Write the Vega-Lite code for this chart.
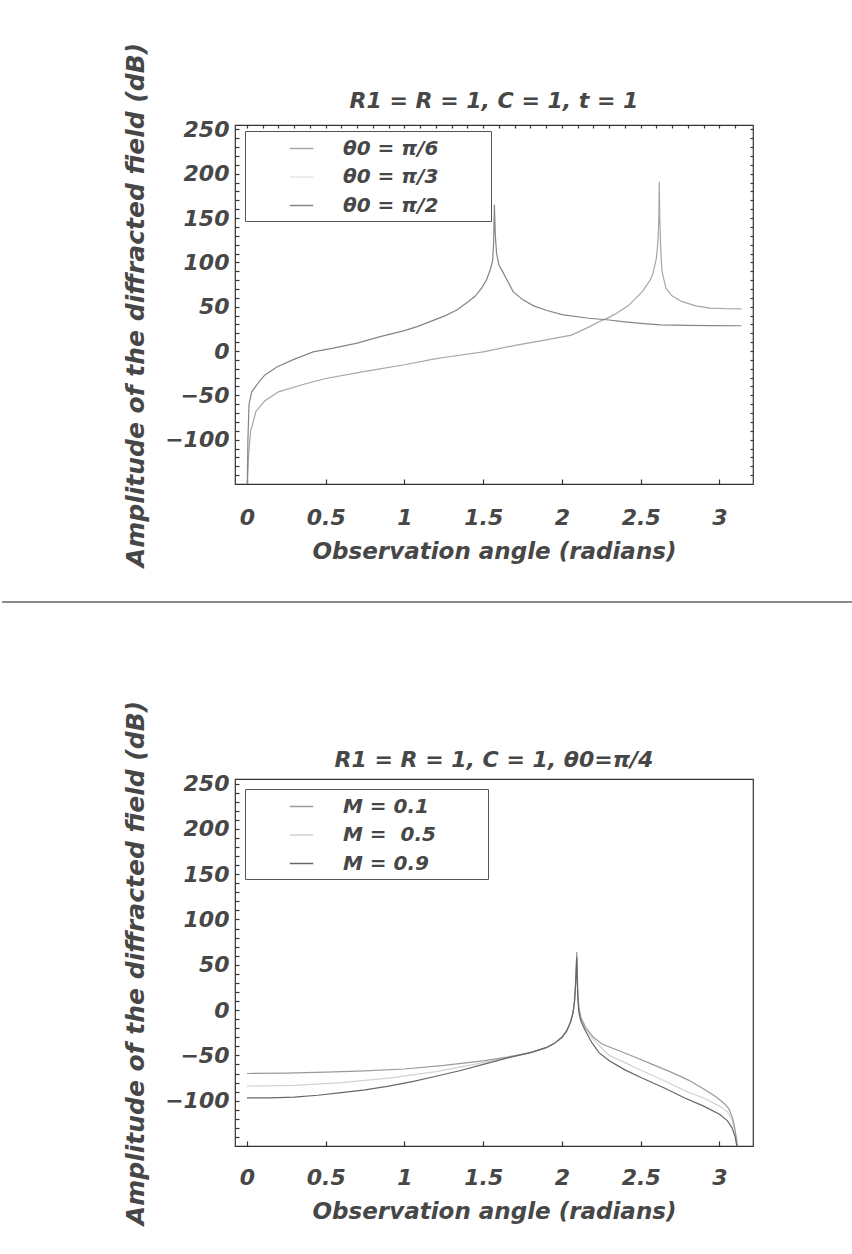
{
  "$schema": "https://vega.github.io/schema/vega-lite/v6.json",
  "background": "white",
  "padding": {"left": 0, "top": 41, "right": 0, "bottom": 10},
  "spacing": 295,
  "bounds": "flush",
  "config": {
    "font": "DejaVu Sans",
    "view": {"stroke": "#333333", "strokeWidth": 1.2},
    "axis": {
      "labelFont": "DejaVu Sans", "labelFontStyle": "italic", "labelFontWeight": "bold",
      "labelFontSize": 22, "labelColor": "#474747",
      "titleFont": "DejaVu Sans", "titleFontStyle": "italic", "titleFontWeight": "bold",
      "titleFontSize": 23, "titleColor": "#474747",
      "tickColor": "#333333", "tickWidth": 1.2, "domain": false, "grid": false, "labelOverlap": false
    },
    "axisLeft": {"titleFontSize": 25},
    "title": {"font": "DejaVu Sans", "fontSize": 22, "fontStyle": "italic", "fontWeight": "bold", "color": "#474747", "frame": "group"},
    "legend": {
      "orient": "none", "legendX": 10, "legendY": 6, "title": null,
      "fillColor": "white", "strokeColor": "#555555", "padding": 5, "rowPadding": 5.5,
      "labelFont": "DejaVu Sans", "labelFontStyle": "italic", "labelFontWeight": "bold",
      "labelFontSize": 20, "labelColor": "#474747", "labelLimit": 300,
      "symbolType": "stroke", "symbolSize": 550, "symbolStrokeWidth": 1.5,
      "symbolOffset": 39, "labelOffset": 29
    }
  },
  "datasets": {
    "incidence": [
      {"angle": 0.003, "amp": -150, "theta0": "θ0 = π/6"},
      {"angle": 0.01, "amp": -118, "theta0": "θ0 = π/6"},
      {"angle": 0.023, "amp": -90, "theta0": "θ0 = π/6"},
      {"angle": 0.032, "amp": -85, "theta0": "θ0 = π/6"},
      {"angle": 0.057, "amp": -68, "theta0": "θ0 = π/6"},
      {"angle": 0.114, "amp": -56, "theta0": "θ0 = π/6"},
      {"angle": 0.2, "amp": -46, "theta0": "θ0 = π/6"},
      {"angle": 0.35, "amp": -38, "theta0": "θ0 = π/6"},
      {"angle": 0.5, "amp": -31, "theta0": "θ0 = π/6"},
      {"angle": 0.75, "amp": -23, "theta0": "θ0 = π/6"},
      {"angle": 1.0, "amp": -15.5, "theta0": "θ0 = π/6"},
      {"angle": 1.175, "amp": -9.5, "theta0": "θ0 = π/6"},
      {"angle": 1.26, "amp": -7, "theta0": "θ0 = π/6"},
      {"angle": 1.5, "amp": -1, "theta0": "θ0 = π/6"},
      {"angle": 1.72, "amp": 7, "theta0": "θ0 = π/6"},
      {"angle": 1.9, "amp": 12.5, "theta0": "θ0 = π/6"},
      {"angle": 2.06, "amp": 18, "theta0": "θ0 = π/6"},
      {"angle": 2.17, "amp": 27, "theta0": "θ0 = π/6"},
      {"angle": 2.235, "amp": 33, "theta0": "θ0 = π/6"},
      {"angle": 2.3, "amp": 38, "theta0": "θ0 = π/6"},
      {"angle": 2.35, "amp": 43, "theta0": "θ0 = π/6"},
      {"angle": 2.42, "amp": 51, "theta0": "θ0 = π/6"},
      {"angle": 2.51, "amp": 67, "theta0": "θ0 = π/6"},
      {"angle": 2.56, "amp": 80, "theta0": "θ0 = π/6"},
      {"angle": 2.58, "amp": 89, "theta0": "θ0 = π/6"},
      {"angle": 2.6, "amp": 105, "theta0": "θ0 = π/6"},
      {"angle": 2.61, "amp": 125, "theta0": "θ0 = π/6"},
      {"angle": 2.615, "amp": 150, "theta0": "θ0 = π/6"},
      {"angle": 2.618, "amp": 191, "theta0": "θ0 = π/6"},
      {"angle": 2.621, "amp": 150, "theta0": "θ0 = π/6"},
      {"angle": 2.627, "amp": 115, "theta0": "θ0 = π/6"},
      {"angle": 2.635, "amp": 90, "theta0": "θ0 = π/6"},
      {"angle": 2.66, "amp": 71, "theta0": "θ0 = π/6"},
      {"angle": 2.7, "amp": 62, "theta0": "θ0 = π/6"},
      {"angle": 2.76, "amp": 56, "theta0": "θ0 = π/6"},
      {"angle": 2.85, "amp": 51, "theta0": "θ0 = π/6"},
      {"angle": 2.94, "amp": 48.5, "theta0": "θ0 = π/6"},
      {"angle": 3.05, "amp": 47.7, "theta0": "θ0 = π/6"},
      {"angle": 3.14, "amp": 47.5, "theta0": "θ0 = π/6"},
      {"angle": 0.002, "amp": -150, "theta0": "θ0 = π/2"},
      {"angle": 0.006, "amp": -100, "theta0": "θ0 = π/2"},
      {"angle": 0.013, "amp": -60, "theta0": "θ0 = π/2"},
      {"angle": 0.03, "amp": -46, "theta0": "θ0 = π/2"},
      {"angle": 0.08, "amp": -34, "theta0": "θ0 = π/2"},
      {"angle": 0.114, "amp": -27, "theta0": "θ0 = π/2"},
      {"angle": 0.19, "amp": -18, "theta0": "θ0 = π/2"},
      {"angle": 0.29, "amp": -10, "theta0": "θ0 = π/2"},
      {"angle": 0.42, "amp": -1, "theta0": "θ0 = π/2"},
      {"angle": 0.54, "amp": 3, "theta0": "θ0 = π/2"},
      {"angle": 0.7, "amp": 9, "theta0": "θ0 = π/2"},
      {"angle": 0.84, "amp": 16, "theta0": "θ0 = π/2"},
      {"angle": 1.0, "amp": 23, "theta0": "θ0 = π/2"},
      {"angle": 1.08, "amp": 27.6, "theta0": "θ0 = π/2"},
      {"angle": 1.175, "amp": 34, "theta0": "θ0 = π/2"},
      {"angle": 1.26, "amp": 40, "theta0": "θ0 = π/2"},
      {"angle": 1.33, "amp": 46, "theta0": "θ0 = π/2"},
      {"angle": 1.4, "amp": 55, "theta0": "θ0 = π/2"},
      {"angle": 1.45, "amp": 62, "theta0": "θ0 = π/2"},
      {"angle": 1.49, "amp": 71, "theta0": "θ0 = π/2"},
      {"angle": 1.52, "amp": 80, "theta0": "θ0 = π/2"},
      {"angle": 1.545, "amp": 92, "theta0": "θ0 = π/2"},
      {"angle": 1.56, "amp": 102, "theta0": "θ0 = π/2"},
      {"angle": 1.566, "amp": 122, "theta0": "θ0 = π/2"},
      {"angle": 1.571, "amp": 165, "theta0": "θ0 = π/2"},
      {"angle": 1.577, "amp": 130, "theta0": "θ0 = π/2"},
      {"angle": 1.585, "amp": 110, "theta0": "θ0 = π/2"},
      {"angle": 1.6, "amp": 97, "theta0": "θ0 = π/2"},
      {"angle": 1.625, "amp": 89, "theta0": "θ0 = π/2"},
      {"angle": 1.69, "amp": 67, "theta0": "θ0 = π/2"},
      {"angle": 1.75, "amp": 58, "theta0": "θ0 = π/2"},
      {"angle": 1.82, "amp": 51, "theta0": "θ0 = π/2"},
      {"angle": 1.9, "amp": 46, "theta0": "θ0 = π/2"},
      {"angle": 2.0, "amp": 41, "theta0": "θ0 = π/2"},
      {"angle": 2.17, "amp": 37, "theta0": "θ0 = π/2"},
      {"angle": 2.3, "amp": 35, "theta0": "θ0 = π/2"},
      {"angle": 2.4, "amp": 33, "theta0": "θ0 = π/2"},
      {"angle": 2.52, "amp": 31, "theta0": "θ0 = π/2"},
      {"angle": 2.625, "amp": 29.5, "theta0": "θ0 = π/2"},
      {"angle": 2.8, "amp": 29, "theta0": "θ0 = π/2"},
      {"angle": 2.95, "amp": 28.7, "theta0": "θ0 = π/2"},
      {"angle": 3.14, "amp": 28.5, "theta0": "θ0 = π/2"}
    ],
    "mach": [
      {"angle": 0, "amp": -84, "mach": "M = 0.5"},
      {"angle": 0.3, "amp": -83, "mach": "M = 0.5"},
      {"angle": 0.6, "amp": -80, "mach": "M = 0.5"},
      {"angle": 0.9, "amp": -75, "mach": "M = 0.5"},
      {"angle": 1.2, "amp": -68, "mach": "M = 0.5"},
      {"angle": 1.5, "amp": -58, "mach": "M = 0.5"},
      {"angle": 1.8, "amp": -47, "mach": "M = 0.5"},
      {"angle": 1.9, "amp": -41.5, "mach": "M = 0.5"},
      {"angle": 1.95, "amp": -37, "mach": "M = 0.5"},
      {"angle": 2.0, "amp": -30, "mach": "M = 0.5"},
      {"angle": 2.03, "amp": -23, "mach": "M = 0.5"},
      {"angle": 2.055, "amp": -13, "mach": "M = 0.5"},
      {"angle": 2.07, "amp": -3, "mach": "M = 0.5"},
      {"angle": 2.08, "amp": 10, "mach": "M = 0.5"},
      {"angle": 2.087, "amp": 30, "mach": "M = 0.5"},
      {"angle": 2.094, "amp": 61, "mach": "M = 0.5"},
      {"angle": 2.1, "amp": 18, "mach": "M = 0.5"},
      {"angle": 2.107, "amp": 1, "mach": "M = 0.5"},
      {"angle": 2.12, "amp": -10, "mach": "M = 0.5"},
      {"angle": 2.146, "amp": -20, "mach": "M = 0.5"},
      {"angle": 2.2, "amp": -33, "mach": "M = 0.5"},
      {"angle": 2.3, "amp": -50, "mach": "M = 0.5"},
      {"angle": 2.4, "amp": -58, "mach": "M = 0.5"},
      {"angle": 2.508, "amp": -67, "mach": "M = 0.5"},
      {"angle": 2.65, "amp": -78, "mach": "M = 0.5"},
      {"angle": 2.78, "amp": -89, "mach": "M = 0.5"},
      {"angle": 2.9, "amp": -97, "mach": "M = 0.5"},
      {"angle": 3.0, "amp": -106, "mach": "M = 0.5"},
      {"angle": 3.05, "amp": -112, "mach": "M = 0.5"},
      {"angle": 3.08, "amp": -121, "mach": "M = 0.5"},
      {"angle": 3.1, "amp": -134, "mach": "M = 0.5"},
      {"angle": 3.113, "amp": -150, "mach": "M = 0.5"},
      {"angle": 0, "amp": -70, "mach": "M = 0.1"},
      {"angle": 0.25, "amp": -69.5, "mach": "M = 0.1"},
      {"angle": 0.5, "amp": -68.4, "mach": "M = 0.1"},
      {"angle": 0.75, "amp": -67, "mach": "M = 0.1"},
      {"angle": 1.0, "amp": -65, "mach": "M = 0.1"},
      {"angle": 1.25, "amp": -61, "mach": "M = 0.1"},
      {"angle": 1.5, "amp": -56, "mach": "M = 0.1"},
      {"angle": 1.65, "amp": -52, "mach": "M = 0.1"},
      {"angle": 1.8, "amp": -47, "mach": "M = 0.1"},
      {"angle": 1.9, "amp": -41.5, "mach": "M = 0.1"},
      {"angle": 1.95, "amp": -37, "mach": "M = 0.1"},
      {"angle": 2.0, "amp": -30, "mach": "M = 0.1"},
      {"angle": 2.03, "amp": -23, "mach": "M = 0.1"},
      {"angle": 2.055, "amp": -13, "mach": "M = 0.1"},
      {"angle": 2.07, "amp": -3, "mach": "M = 0.1"},
      {"angle": 2.08, "amp": 10, "mach": "M = 0.1"},
      {"angle": 2.087, "amp": 30, "mach": "M = 0.1"},
      {"angle": 2.094, "amp": 64, "mach": "M = 0.1"},
      {"angle": 2.1, "amp": 22, "mach": "M = 0.1"},
      {"angle": 2.107, "amp": 4, "mach": "M = 0.1"},
      {"angle": 2.12, "amp": -8, "mach": "M = 0.1"},
      {"angle": 2.15, "amp": -19, "mach": "M = 0.1"},
      {"angle": 2.2, "amp": -30, "mach": "M = 0.1"},
      {"angle": 2.254, "amp": -37.5, "mach": "M = 0.1"},
      {"angle": 2.35, "amp": -44, "mach": "M = 0.1"},
      {"angle": 2.45, "amp": -51, "mach": "M = 0.1"},
      {"angle": 2.57, "amp": -59.6, "mach": "M = 0.1"},
      {"angle": 2.7, "amp": -69, "mach": "M = 0.1"},
      {"angle": 2.8, "amp": -77, "mach": "M = 0.1"},
      {"angle": 2.89, "amp": -86, "mach": "M = 0.1"},
      {"angle": 2.98, "amp": -96, "mach": "M = 0.1"},
      {"angle": 3.03, "amp": -103, "mach": "M = 0.1"},
      {"angle": 3.06, "amp": -109, "mach": "M = 0.1"},
      {"angle": 3.085, "amp": -120, "mach": "M = 0.1"},
      {"angle": 3.1, "amp": -133, "mach": "M = 0.1"},
      {"angle": 3.115, "amp": -150, "mach": "M = 0.1"},
      {"angle": 0, "amp": -97, "mach": "M = 0.9"},
      {"angle": 0.15, "amp": -96.8, "mach": "M = 0.9"},
      {"angle": 0.3, "amp": -96, "mach": "M = 0.9"},
      {"angle": 0.45, "amp": -94, "mach": "M = 0.9"},
      {"angle": 0.6, "amp": -91, "mach": "M = 0.9"},
      {"angle": 0.75, "amp": -88, "mach": "M = 0.9"},
      {"angle": 0.9, "amp": -84, "mach": "M = 0.9"},
      {"angle": 1.05, "amp": -79, "mach": "M = 0.9"},
      {"angle": 1.2, "amp": -73, "mach": "M = 0.9"},
      {"angle": 1.35, "amp": -67, "mach": "M = 0.9"},
      {"angle": 1.5, "amp": -60, "mach": "M = 0.9"},
      {"angle": 1.65, "amp": -53, "mach": "M = 0.9"},
      {"angle": 1.8, "amp": -47, "mach": "M = 0.9"},
      {"angle": 1.9, "amp": -41.5, "mach": "M = 0.9"},
      {"angle": 1.95, "amp": -37, "mach": "M = 0.9"},
      {"angle": 2.0, "amp": -30, "mach": "M = 0.9"},
      {"angle": 2.03, "amp": -23, "mach": "M = 0.9"},
      {"angle": 2.055, "amp": -13, "mach": "M = 0.9"},
      {"angle": 2.07, "amp": -3, "mach": "M = 0.9"},
      {"angle": 2.08, "amp": 10, "mach": "M = 0.9"},
      {"angle": 2.087, "amp": 30, "mach": "M = 0.9"},
      {"angle": 2.094, "amp": 58, "mach": "M = 0.9"},
      {"angle": 2.1, "amp": 15, "mach": "M = 0.9"},
      {"angle": 2.107, "amp": -2, "mach": "M = 0.9"},
      {"angle": 2.12, "amp": -12, "mach": "M = 0.9"},
      {"angle": 2.146, "amp": -22, "mach": "M = 0.9"},
      {"angle": 2.19, "amp": -36, "mach": "M = 0.9"},
      {"angle": 2.235, "amp": -47, "mach": "M = 0.9"},
      {"angle": 2.3, "amp": -56, "mach": "M = 0.9"},
      {"angle": 2.4, "amp": -66, "mach": "M = 0.9"},
      {"angle": 2.508, "amp": -75, "mach": "M = 0.9"},
      {"angle": 2.65, "amp": -86, "mach": "M = 0.9"},
      {"angle": 2.78, "amp": -97, "mach": "M = 0.9"},
      {"angle": 2.9, "amp": -106, "mach": "M = 0.9"},
      {"angle": 3.0, "amp": -115, "mach": "M = 0.9"},
      {"angle": 3.05, "amp": -122, "mach": "M = 0.9"},
      {"angle": 3.08, "amp": -130, "mach": "M = 0.9"},
      {"angle": 3.1, "amp": -140, "mach": "M = 0.9"},
      {"angle": 3.11, "amp": -150, "mach": "M = 0.9"}
    ]
  },
  "vconcat": [
    {
      "width": 518,
      "height": 359,
      "title": {"text": "R1 = R = 1, C = 1, t = 1", "offset": 12, "dy": 83},
      "data": {"name": "incidence"},
      "layer": [
        {
          "mark": {"type": "line", "strokeWidth": 1.2, "clip": true},
          "encoding": {
            "x": {
              "field": "angle", "type": "quantitative",
              "scale": {"domain": [-0.076, 3.213], "nice": false, "zero": false},
              "axis": {
                "orient": "bottom", "values": [0, 0.5, 1, 1.5, 2, 2.5, 3], "format": "~g",
                "tickSize": -5, "labelPadding": 28,
                "title": "Observation angle (radians)", "titlePadding": 12
              }
            },
            "y": {
              "field": "amp", "type": "quantitative",
              "scale": {"domain": [-150, 255], "nice": false, "zero": false},
              "axis": {
                "orient": "left",
                "values": [-140, -130, -120, -110, -100, -90, -80, -70, -60, -50, -40, -30, -20, -10, 0, 10, 20, 30, 40, 50, 60, 70, 80, 90, 100, 110, 120, 130, 140, 150, 160, 170, 180, 190, 200, 210, 220, 230, 240, 250],
                "labelExpr": "datum.value % 50 === 0 ? datum.label : ''",
                "tickSize": -4, "labelPadding": 10,
                "title": "Amplitude of the diffracted field (dB)", "titlePadding": 16
              }
            },
            "color": {
              "field": "theta0", "type": "nominal",
              "scale": {"domain": ["θ0 = π/6", "θ0 = π/3", "θ0 = π/2"], "range": ["#a6a6a6", "#e4e4e4", "#858585"]},
              "legend": {"labelExpr": "datum.label + '\u2800\u2800\u2800'"}
            }
          }
        },
        {
          "mark": {"type": "rule", "clip": false, "color": "#8c8c8c", "strokeWidth": 1.4},
          "encoding": {
            "x": {
              "datum": -1.555, "type": "quantitative",
              "axis": {
                "orient": "top", "labels": false, "tickSize": -3, "title": null,
                "values": [0, 0.1, 0.2, 0.3, 0.4, 0.5, 0.6, 0.7, 0.8, 0.9, 1, 1.1, 1.2, 1.3, 1.4, 1.5, 1.6, 1.7, 1.8, 1.9, 2, 2.1, 2.2, 2.3, 2.4, 2.5, 2.6, 2.7, 2.8, 2.9, 3, 3.1]
              }
            },
            "x2": {"datum": 3.854},
            "y": {
              "datum": -283.1, "type": "quantitative",
              "axis": {
                "orient": "right", "labels": false, "tickSize": -3, "title": null,
                "values": [-140, -130, -120, -110, -100, -90, -80, -70, -60, -50, -40, -30, -20, -10, 0, 10, 20, 30, 40, 50, 60, 70, 80, 90, 100, 110, 120, 130, 140, 150, 160, 170, 180, 190, 200, 210, 220, 230, 240, 250]
              }
            }
          }
        }
      ]
    },
    {
      "width": 518,
      "height": 367,
      "title": {"text": "R1 = R = 1, C = 1, θ0=π/4", "offset": 7, "dy": 79},
      "data": {"name": "mach"},
      "mark": {"type": "line", "strokeWidth": 1.2, "clip": true},
      "encoding": {
        "x": {
          "field": "angle", "type": "quantitative",
          "scale": {"domain": [-0.076, 3.213], "nice": false, "zero": false},
          "axis": {
            "orient": "bottom", "values": [0, 0.5, 1, 1.5, 2, 2.5, 3], "format": "~g",
            "tickSize": -5, "labelPadding": 26,
            "title": "Observation angle (radians)", "titlePadding": 12
          }
        },
        "y": {
          "field": "amp", "type": "quantitative",
          "scale": {"domain": [-150, 255], "nice": false, "zero": false},
          "axis": {
            "orient": "left",
            "values": [-140, -130, -120, -110, -100, -90, -80, -70, -60, -50, -40, -30, -20, -10, 0, 10, 20, 30, 40, 50, 60, 70, 80, 90, 100, 110, 120, 130, 140, 150, 160, 170, 180, 190, 200, 210, 220, 230, 240, 250],
            "labelExpr": "datum.value % 50 === 0 ? datum.label : ''",
            "tickSize": -4, "labelPadding": 10,
            "title": "Amplitude of the diffracted field (dB)", "titlePadding": 16
          }
        },
        "color": {
          "field": "mach", "type": "nominal",
          "scale": {"domain": ["M = 0.1", "M = 0.5", "M = 0.9"], "range": ["#9a9a9a", "#d2d2d2", "#666666"]},
          "legend": {"legendY": 10, "labelExpr": "replace(datum.label, '= 0.5', '=\u00a0 0.5') + '\u2800\u2800\u2800'"}
        }
      }
    }
  ],
  "resolve": {
    "scale": {"color": "independent", "x": "independent", "y": "independent"},
    "legend": {"color": "independent"}
  }
}
